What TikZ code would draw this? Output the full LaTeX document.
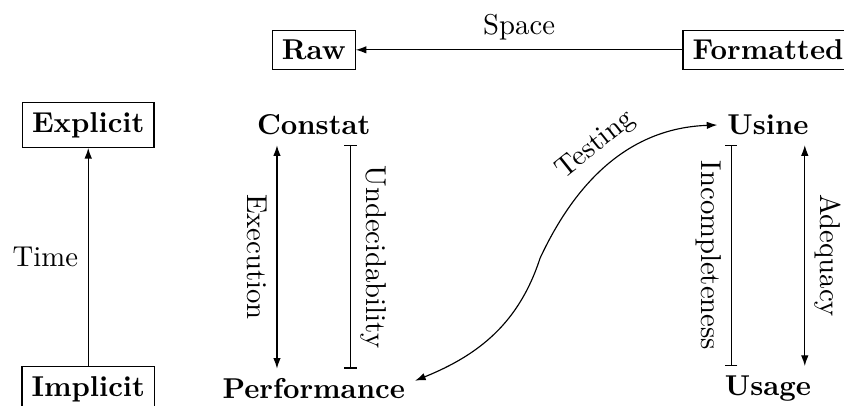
\documentclass[tikz,border=0pt]{standalone}
\usepackage{tikz}
\usetikzlibrary{arrows.meta,positioning,calc}
\tikzset{
  >={Latex[length=3.7pt, width=2.6pt]},
  term/.style={rectangle, inner sep=3.33pt, font=\bfseries},
  boxed/.style={term, draw=black},
  flow/.style={draw, ->},
  twoway/.style={draw, <->},
  limit/.style={draw, {Bar[width=4.2pt]}-{Bar[width=4.2pt]}},
  side/.style={midway, rotate=-90, font=\normalsize}
}
\begin{document}
\begin{tikzpicture}

\useasboundingbox (0,0) rectangle (10.33,4.96);

\node[boxed] (raw)       at (3.84,4.35) {Raw};
\node[boxed] (formatted) at (9.40,4.35) {Formatted};

\node[boxed] (explicit)  at (1.08,3.43) {Explicit};
\node[boxed] (implicit)  at (1.08,0.20) {Implicit};

\node[term] (constat)     at (3.84,3.43) {Constat};
\node[term] (performance) at (3.84,0.20) {Performance};

\node[term] (usine) at (9.40,3.43) {Usine};
\node[term] (usage) at (9.40,0.20) {Usage};

\coordinate (bend) at (6.61,1.80);

\draw[flow] (formatted) -- node[midway, above] {Space} (raw);
\draw[flow] (implicit)  -- node[midway, left] {Time} (explicit);

\draw[twoway] ([xshift=-0.45cm]constat.south) -- node[side, anchor=north] {Execution}
              ([xshift=-0.45cm]performance.north);
\draw[limit]  ([xshift=0.45cm]constat.south) -- node[side, anchor=south] {Undecidability}
              ([xshift=0.45cm]performance.north);

\draw[limit]  ([xshift=-0.45cm]usine.south) -- node[side, anchor=north] {Incompleteness}
              ([xshift=-0.45cm]usage.north);
\draw[twoway] ([xshift=0.45cm]usine.south) -- node[side, anchor=south] {Adequacy}
              ([xshift=0.45cm]usage.north);

\draw[twoway] ([yshift=0.1cm]performance.east) to[out=22, in=-108] (bend)
              to[out=65, in=182] node[midway, above, sloped] {Testing} (usine.west);

\end{tikzpicture}
\end{document}
